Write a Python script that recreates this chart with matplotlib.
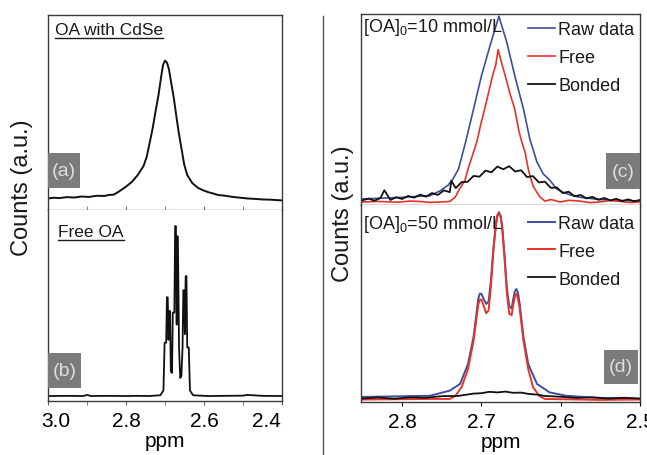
import matplotlib.pyplot as plt
from matplotlib.lines import Line2D
from matplotlib.patches import Rectangle
from matplotlib.transforms import ScaledTranslation

plt.rcParams['font.family'] = ['Liberation Sans', 'DejaVu Sans']
plt.rcParams['mathtext.default'] = 'regular'
plt.rcParams['text.color'] = '#1a1a1a'

# -- (a) OA bound to CdSe, one broad line
a_ppm = [3.001, 2.985, 2.971, 2.952, 2.933, 2.914, 2.895, 2.875, 2.856, 2.843, 2.831,
         2.818, 2.801, 2.785, 2.770, 2.755, 2.747, 2.740, 2.732, 2.725, 2.717, 2.710,
         2.705, 2.700, 2.695, 2.690, 2.684, 2.677, 2.671, 2.665, 2.658, 2.651, 2.643,
         2.630, 2.615, 2.602, 2.590, 2.577, 2.564, 2.545, 2.526, 2.507, 2.488, 2.469,
         2.450, 2.430, 2.400]
a_int = [5.9, 6.3, 6.1, 6.6, 6.4, 6.9, 6.7, 7.3, 7.2, 7.7, 7.9,
         9.5, 11.8, 14.4, 17.9, 22.6, 27.2, 33.8, 41.5, 49.7, 58.5, 68.2,
         74.4, 76.6, 75.6, 72.3, 65.1, 56.9, 48.2, 40.0, 31.8, 23.6, 17.9,
         13.8, 11.3, 10.1, 9.2, 8.5, 7.7, 7.3, 6.7, 6.3, 5.9, 5.7,
         5.4, 5.3, 4.9]

# -- (b) free OA, resolved multiplet
b_ppm = [3.000, 2.950, 2.910, 2.900, 2.890, 2.850, 2.800, 2.770, 2.742, 2.712, 2.704,
         2.701, 2.697, 2.695, 2.693, 2.691, 2.689, 2.687, 2.685, 2.682, 2.680, 2.676,
         2.674, 2.672, 2.670, 2.669, 2.667, 2.664, 2.661, 2.658, 2.655, 2.653, 2.651,
         2.649, 2.647, 2.645, 2.643, 2.639, 2.636, 2.628, 2.590, 2.550, 2.500, 2.490,
         2.450, 2.400]
b_int = [2.6, 2.7, 2.6, 3.2, 2.6, 2.7, 2.6, 2.7, 2.6, 3.0, 5.5,
         30.5, 30.5, 54.3, 54.3, 32.0, 47.1, 47.1, 15.5, 14.7, 46.3, 46.3,
         91.6, 91.6, 40.0, 86.2, 86.2, 28.0, 12.1, 13.0, 28.0, 58.0, 58.0,
         35.0, 65.4, 65.4, 28.0, 28.0, 5.5, 3.0, 2.6, 2.7, 2.8, 3.2,
         2.7, 2.6]

# -- (c) [OA]0 = 10 mmol/L
c_raw_ppm = [2.852, 2.803, 2.765, 2.752, 2.742, 2.736, 2.729, 2.720, 2.710, 2.700,
             2.688, 2.678, 2.668, 2.658, 2.647, 2.639, 2.630, 2.622, 2.614, 2.605,
             2.597, 2.588, 2.576, 2.551, 2.525, 2.500]
c_raw = [2.9, 3.7, 4.6, 7.2, 10.2, 13.4, 18.6, 32.8, 50.1, 67.6,
         85.1, 98.8, 85.1, 67.6, 50.1, 34.4, 22.3, 16.0, 12.9, 8.1,
         6.4, 5.0, 3.8, 2.6, 2.1, 1.8]

c_free_ppm = [2.852, 2.830, 2.805, 2.790, 2.778, 2.765, 2.752, 2.740, 2.733, 2.729,
              2.725, 2.721, 2.717, 2.712, 2.706, 2.701, 2.696, 2.691, 2.686, 2.682,
              2.679, 2.675, 2.670, 2.664, 2.658, 2.653, 2.649, 2.645, 2.641, 2.638,
              2.635, 2.630, 2.626, 2.620, 2.612, 2.601, 2.590, 2.576, 2.563, 2.551,
              2.538, 2.525, 2.512, 2.500]
c_free = [1.3, 1.6, 1.2, 1.8, 1.6, 1.1, 1.3, 1.6, 3.9, 7.2,
          9.9, 12.4, 18.6, 25.0, 32.7, 41.8, 50.1, 58.8, 67.6, 73.2,
          81.3, 74.9, 67.6, 58.1, 50.1, 38.9, 32.7, 27.5, 18.6, 14.0,
          9.9, 6.3, 3.9, 1.8, 2.6, 1.3, 2.2, 1.8, 1.0, 1.3,
          2.1, 1.6, 1.0, 1.3]

c_bond_ppm = [2.850, 2.8425, 2.835, 2.8275, 2.8225, 2.815, 2.8075, 2.800, 2.7925, 2.785,
              2.7775, 2.770, 2.7625, 2.755, 2.7475, 2.740, 2.738, 2.7325, 2.725, 2.7175,
              2.710, 2.7025, 2.695, 2.6875, 2.680, 2.6725, 2.665, 2.6575, 2.650, 2.6425,
              2.635, 2.6275, 2.620, 2.6125, 2.605, 2.5975, 2.590, 2.5825, 2.575, 2.5675,
              2.560, 2.5525, 2.545, 2.5375, 2.530, 2.5225, 2.515, 2.5075, 2.500]
c_bond = [2.2, 3.1, 2.0, 3.4, 7.5, 2.4, 3.8, 2.9, 4.5, 3.6,
          5.2, 4.1, 6.0, 5.0, 7.4, 6.5, 12.5, 8.6, 11.8, 11.9,
          15.0, 14.6, 17.8, 16.9, 19.9, 18.5, 20.1, 17.3, 18.0, 14.4,
          14.9, 11.6, 12.0, 8.7, 9.0, 6.0, 6.7, 4.3, 5.0, 3.2,
          4.0, 2.5, 3.4, 2.1, 3.0, 1.8, 2.7, 1.7, 2.4]

# -- (d) [OA]0 = 50 mmol/L
d_raw_ppm = [2.852, 2.765, 2.740, 2.727, 2.717, 2.710, 2.706, 2.704, 2.702, 2.700,
             2.697, 2.694, 2.691, 2.688, 2.685, 2.682, 2.680, 2.678, 2.676, 2.674,
             2.671, 2.668, 2.665, 2.662, 2.660, 2.658, 2.656, 2.654, 2.652, 2.647,
             2.641, 2.630, 2.614, 2.593, 2.551, 2.500]
d_raw = [2.7, 3.3, 5.9, 9.3, 19.4, 33.0, 46.0, 52.5, 55.0, 54.8,
         52.0, 49.7, 51.0, 62.0, 77.5, 89.5, 94.5, 96.1, 94.5, 89.5,
         75.0, 58.0, 48.5, 47.5, 52.0, 56.0, 57.3, 55.5, 50.5, 33.0,
         19.4, 9.3, 5.0, 3.3, 2.2, 1.7]

d_free_ppm = [2.852, 2.765, 2.740, 2.733, 2.725, 2.717, 2.710, 2.706, 2.704, 2.702,
              2.700, 2.697, 2.694, 2.691, 2.688, 2.685, 2.682, 2.680, 2.678, 2.676,
              2.674, 2.671, 2.668, 2.665, 2.662, 2.660, 2.658, 2.656, 2.654, 2.652,
              2.647, 2.641, 2.635, 2.627, 2.620, 2.550, 2.500]
d_free = [1.4, 1.7, 1.7, 3.2, 7.7, 16.8, 31.0, 43.5, 49.5, 52.0,
          51.8, 48.5, 45.0, 46.5, 59.0, 76.5, 88.8, 94.0, 95.7, 94.0,
          88.8, 73.5, 55.5, 44.8, 44.0, 49.0, 53.5, 54.8, 52.5, 48.0,
          31.0, 16.8, 7.7, 3.2, 1.7, 1.2, 1.4]

d_bond_ppm = [2.852, 2.830, 2.810, 2.790, 2.770, 2.750, 2.730, 2.710, 2.700, 2.690,
              2.680, 2.670, 2.660, 2.650, 2.640, 2.630, 2.620, 2.600, 2.580, 2.560,
              2.540, 2.520, 2.500]
d_bond = [1.9, 2.4, 1.8, 2.5, 2.3, 3.1, 3.2, 4.4, 4.6, 5.3,
          5.0, 5.4, 4.8, 4.9, 4.2, 3.9, 3.2, 2.8, 2.2, 2.5,
          1.9, 2.3, 1.9]

left_ticks = [3.0, 2.8, 2.6, 2.4]
left_minor = [2.9, 2.7, 2.5]
right_ticks = [2.8, 2.7, 2.6, 2.5]
names = ['Raw data', 'Free', 'Bonded']
c_blue, c_red, c_black = '#3d4f9c', '#e8322a', '#111111'
frame = '#3a3a3a'

fig = plt.figure(figsize=(6.47, 4.56), dpi=100)
W, H = 647.0, 456.0


def px_axes(x0, y0, x1, y1):
    return fig.add_axes([x0 / W, 1 - y1 / H, (x1 - x0) / W, (y1 - y0) / H])


ax_a = px_axes(48, 16, 282, 211)
ax_b = px_axes(48, 211, 282, 402)
ax_c = px_axes(361, 15, 640, 205.5)
ax_d = px_axes(361, 205.5, 640, 403.3)

ax_a.plot(a_ppm, a_int, color=c_black, lw=1.4)
ax_b.plot(b_ppm, b_int, color=c_black, lw=1.3)

ax_c.plot(c_raw_ppm, c_raw, color=c_blue, lw=1.2, label=names[0])
ax_c.plot(c_free_ppm, c_free, color=c_red, lw=1.2, label=names[1])
ax_c.plot(c_bond_ppm, c_bond, color=c_black, lw=1.3, label=names[2])

ax_d.plot(d_raw_ppm, d_raw, color=c_blue, lw=1.4, label=names[0])
ax_d.plot(d_free_ppm, d_free, color=c_red, lw=1.4, label=names[1])
ax_d.plot(d_bond_ppm, d_bond, color=c_black, lw=1.3, label=names[2])

for ax in (ax_a, ax_b, ax_c, ax_d):
    ax.set_yticks([])
    for sp in ax.spines.values():
        sp.set_color(frame)
        sp.set_linewidth(1.0)

ax_a.set_xticks(left_ticks)
ax_a.set_xticks(left_minor, minor=True)
ax_a.tick_params(axis='x', which='both', direction='in', length=3, color='#6a6ab0',
                 labelbottom=False)
ax_a.spines['bottom'].set_color('#7a7ab8')
ax_b.spines['top'].set_visible(False)
ax_b.set_xticks(left_ticks)
ax_b.set_xticks(left_minor, minor=True)
ax_b.tick_params(axis='x', which='both', direction='out', length=3, color='#5a5aa8',
                 labelsize=15, pad=4)
ax_b.set_xticklabels(['3.0', '2.8', '2.6', '2.4'])

ax_c.set_xticks(right_ticks)
ax_c.tick_params(axis='x', direction='out', length=3, labelbottom=False)
ax_d.spines['top'].set_visible(False)
ax_d.set_xticks(right_ticks)
ax_d.tick_params(axis='x', direction='out', length=3, labelsize=15, pad=4)
ax_d.set_xticklabels(['2.8', '2.7', '2.6', '2.5'])

# limits go after the ticks, otherwise set_xticks widens them
for ax in (ax_a, ax_b):
    ax.set_xlim(3.0, 2.4)
    ax.set_ylim(0, 100)
for ax in (ax_c, ax_d):
    ax.set_xlim(2.852, 2.5)
    ax.set_ylim(0, 100)

# end labels of the left scale sit inside the frame
end_labels = ax_b.get_xticklabels()
end_labels[0].set_transform(end_labels[0].get_transform() +
                            ScaledTranslation(8 / 100, 0, fig.dpi_scale_trans))
end_labels[-1].set_transform(end_labels[-1].get_transform() +
                             ScaledTranslation(-16 / 100, 0, fig.dpi_scale_trans))

ax_b.set_xlabel('ppm', fontsize=15, labelpad=1)
ax_d.set_xlabel('ppm', fontsize=15, labelpad=1)

fig.text(22 / W, 1 - 188 / H, 'Counts (a.u.)', rotation=90, fontsize=17,
         ha='center', va='center')
fig.text(343 / W, 1 - 214 / H, 'Counts (a.u.)', rotation=90, fontsize=17,
         ha='center', va='center')

# separator between the two halves
fig.add_artist(Line2D([323 / W, 323 / W], [0, 1 - 17 / H], color='#555555', lw=1.0))

# panel tags on grey squares
tags = [(ax_a, '(a)', 0.0, 0.113, 0.137, 0.18),
        (ax_b, '(b)', 0.0, 0.068, 0.141, 0.183),
        (ax_c, '(c)', 0.878, 0.081, 0.122, 0.189),
        (ax_d, '(d)', 0.871, 0.0925, 0.122, 0.172)]
for ax, tag, x0, y0, w, h in tags:
    ax.add_patch(Rectangle((x0, y0), w, h, transform=ax.transAxes,
                           facecolor='#7b7b7b', edgecolor='none', zorder=5))
    ax.text(x0 + w / 2, y0 + h / 2, tag, transform=ax.transAxes, fontsize=14,
            color='#dcdcdc', ha='center', va='center', zorder=6)

# underlined sample titles
t_a = ax_a.text(0.03, 0.928, 'OA with CdSe', transform=ax_a.transAxes, fontsize=12.5,
                va='center')
t_b = ax_b.text(0.043, 0.89, 'Free OA', transform=ax_b.transAxes, fontsize=12.5,
                va='center')

ax_c.text(0.007, 0.932, '[OA]$_0$=10 mmol/L', transform=ax_c.transAxes, fontsize=13,
          va='center')
ax_d.text(0.007, 0.906, '[OA]$_0$=50 mmol/L', transform=ax_d.transAxes, fontsize=13,
          va='center')

for ax, top in ((ax_c, 0.99), (ax_d, 0.975)):
    ax.legend(loc='upper right', bbox_to_anchor=(1.0, top), frameon=False, fontsize=13,
              handlelength=1.5, handletextpad=0.2, labelspacing=0.6, borderpad=0.3,
              borderaxespad=0.0)

fig.canvas.draw()
renderer = fig.canvas.get_renderer()
for t in (t_a, t_b):
    bb = t.get_window_extent(renderer)
    fy = (bb.y0 - 1.5) / H
    fig.add_artist(Line2D([bb.x0 / W, bb.x1 / W], [fy, fy], color='#1a1a1a', lw=1.0))

fig.savefig('out.png', dpi=100)
